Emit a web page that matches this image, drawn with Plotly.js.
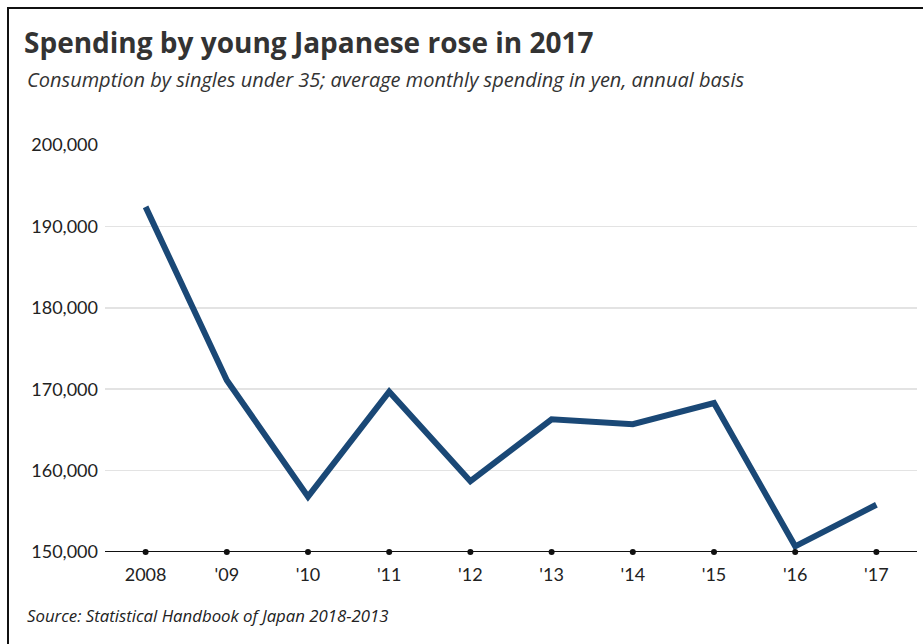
<!DOCTYPE html>
<html>
<head>
<meta charset="utf-8">
<script src="https://cdn.plot.ly/plotly-3.0.1.min.js"></script>
<style>
  html, body { margin: 0; padding: 0; background: #fff; }
  #wrap { position: relative; width: 923px; height: 644px; overflow: hidden; }
  #chart { position: absolute; left: 0; top: 0; width: 923px; height: 644px; }
  #frame { position: absolute; left: 7px; top: 7px; width: 940px; height: 700px;
           border-left: 2px solid #111; border-top: 2px solid #111; pointer-events: none; }
</style>
</head>
<body>
<div id="wrap">
  <div id="chart"></div>
  <div id="frame"></div>
</div>
<script>
const categories = ["2008", "'09", "'10", "'11", "'12", "'13", "'14", "'15", "'16", "'17"];
const spending = [192400, 171100, 156800, 169700, 158700, 166300, 165700, 168300, 150700, 155800];
const yTickValues = [150000, 160000, 170000, 180000, 190000, 200000];
const yTickLabels = ["150,000", "160,000", "170,000", "180,000", "190,000", "200,000"];

const titleText = "Spending by young Japanese rose in 2017";
const subtitleText = "Consumption by singles under 35; average monthly spending in yen, annual basis";
const sourceText = "Source: Statistical Handbook of Japan 2018-2013";

const yMin = 150000, yMax = 200000;

const lineTrace = {
  x: categories,
  y: spending,
  type: 'scatter',
  mode: 'lines',
  line: { color: '#1a4876', width: 6 },
  cliponaxis: false,
  hoverinfo: 'x+y'
};

const dotTrace = {
  x: categories,
  y: categories.map(() => yMin),
  type: 'scatter',
  mode: 'markers',
  marker: { color: '#111', size: 6 },
  cliponaxis: false,
  hoverinfo: 'skip'
};

const layout = {
  width: 923,
  height: 644,
  margin: { l: 105, r: 6, t: 145, b: 92 },
  paper_bgcolor: '#fff',
  plot_bgcolor: '#fff',
  showlegend: false,
  font: { family: 'Lato, "Open Sans", sans-serif', color: '#222', size: 18 },
  title: {
    text: '<b>' + titleText + '</b>',
    font: { family: '"Open Sans", sans-serif', size: 28, color: '#333' },
    xref: 'container', yref: 'container',
    x: 24 / 923, xanchor: 'left',
    y: 1 - 43 / 644, yanchor: 'middle'
  },
  xaxis: {
    type: 'category',
    range: [-0.5, categories.length - 0.5],
    showgrid: false,
    zeroline: false,
    showline: false,
    ticks: '',
    ticklabelstandoff: 10,
    tickfont: { size: 18, color: '#222' },
    fixedrange: true
  },
  yaxis: {
    range: [yMin, yMax],
    tickvals: yTickValues,
    ticktext: yTickLabels,
    showgrid: true,
    gridcolor: '#e3e3e3',
    gridwidth: 1.5,
    zeroline: false,
    showline: false,
    ticks: '',
    ticklabelstandoff: 6,
    tickfont: { size: 18, color: '#222' },
    fixedrange: true
  },
  shapes: [
    {
      type: 'line', xref: 'paper', yref: 'y',
      x0: 0, x1: 1, y0: yMin, y1: yMin,
      line: { color: '#111', width: 2 },
      layer: 'below'
    }
  ],
  annotations: [
    {
      text: '<i>' + subtitleText + '</i>',
      xref: 'paper', yref: 'paper', showarrow: false,
      x: (25 - 105) / 812, xanchor: 'left',
      y: 1 + (145 - 80) / 407, yanchor: 'middle',
      font: { family: '"Open Sans", sans-serif', size: 20, color: '#333' }
    },
    {
      text: '<i>' + sourceText + '</i>',
      xref: 'paper', yref: 'paper', showarrow: false,
      x: (25 - 105) / 812, xanchor: 'left',
      y: -(615 - 552) / 407, yanchor: 'middle',
      font: { family: '"Open Sans", sans-serif', size: 16.8, color: '#222' }
    }
  ]
};

Plotly.newPlot('chart', [lineTrace, dotTrace], layout, { displayModeBar: false, staticPlot: true });
</script>
</body>
</html>
